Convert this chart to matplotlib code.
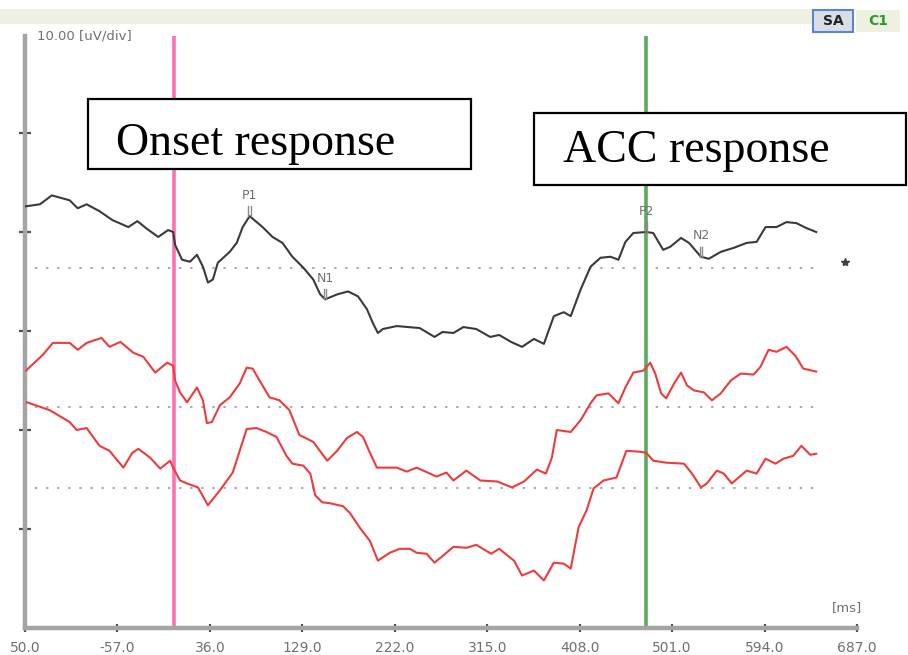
import numpy as np
import matplotlib
matplotlib.use("Agg")
import matplotlib.pyplot as plt
from matplotlib.patches import Rectangle

# ---- averaged evoked responses: time (ms) and amplitude (uV re. channel baseline)
t_black = [-149, -135, -123, -105, -97, -88, -75, -62, -46, -37, -27, -16, -6, -1, 1, 8, 16, 23,
           29, 34, 39, 44, 56, 63, 69, 76, 89, 99, 109, 119, 130, 140, 147, 152, 164, 175, 185,
           194, 200, 205, 210, 224, 247, 262, 270, 281, 291, 304, 318, 327, 339, 350, 362, 372,
           382, 392, 399, 409, 419, 429, 439, 447, 454, 462, 475, 482, 492, 499, 510, 518, 530,
           538, 550, 563, 576, 586, 595, 606, 616, 626, 636, 646]
a_black = [6.2, 6.4, 7.3, 6.8, 6.0, 6.4, 5.7, 4.8, 4.1, 4.7, 3.9, 3.1, 3.8, 3.6, 2.3, 0.8, 0.6, 1.3,
           0.1, -1.5, -1.2, 0.5, 1.6, 2.5, 4.1, 5.2, 4.1, 3.1, 2.5, 1.1, 0.0, -1.2, -2.7, -3.2, -2.7,
           -2.4, -2.9, -4.2, -5.6, -6.6, -6.2, -5.9, -6.1, -7.0, -6.5, -6.6, -6.0, -6.2, -7.0, -6.8,
           -7.5, -8.0, -7.2, -7.7, -4.9, -4.5, -4.9, -2.2, 0.1, 1.0, 1.1, 0.8, 2.6, 3.5, 3.6, 3.5,
           1.8, 2.1, 3.0, 2.5, 1.1, 0.9, 1.6, 2.0, 2.5, 2.6, 4.1, 4.1, 4.6, 4.5, 4.0, 3.6]

t_red1 = [-149, -132, -122, -105, -97, -88, -73, -65, -54, -41, -31, -19, -7, -1, 1, 6, 13, 23, 29,
          33, 38, 46, 56, 66, 73, 79, 86, 96, 106, 116, 126, 140, 154, 164, 174, 184, 190, 197, 204,
          224, 234, 244, 264, 274, 281, 294, 308, 325, 340, 352, 365, 374, 380, 385, 399, 409, 419,
          425, 437, 447, 454, 462, 472, 479, 484, 490, 495, 503, 510, 516, 523, 533, 541, 550, 560,
          570, 583, 590, 598, 606, 616, 625, 633, 646]
a_red1 = [3.7, 5.3, 6.5, 6.5, 5.8, 6.5, 7.0, 6.1, 6.6, 5.5, 5.1, 3.5, 4.5, 4.2, 2.7, 1.5, 0.5, 2.0, 0.7,
          -1.6, -1.5, 0.2, 1.0, 2.4, 4.0, 3.9, 2.7, 1.0, 0.7, -0.3, -2.8, -3.5, -5.4, -4.4, -3.1, -2.5,
          -3.0, -4.6, -6.1, -6.1, -6.5, -6.1, -7.0, -6.6, -7.4, -6.4, -7.4, -7.5, -8.1, -7.5, -6.3,
          -6.7, -5.1, -2.3, -2.5, -1.3, 0.4, 1.2, 1.4, 0.4, 2.0, 3.5, 3.7, 4.5, 3.4, 1.4, 0.9, 2.4,
          3.5, 2.2, 1.7, 1.5, 0.7, 1.4, 2.7, 3.4, 3.3, 4.1, 5.8, 5.6, 6.1, 5.2, 3.9, 3.6]

t_red2 = [-148, -125, -105, -98, -88, -75, -65, -51, -42, -36, -24, -14, -4, -1, 6, 13, 24, 34, 46,
          59, 66, 73, 83, 93, 103, 113, 119, 130, 137, 142, 149, 157, 170, 177, 187, 197, 205, 217,
          227, 237, 244, 254, 262, 274, 281, 294, 304, 319, 327, 342, 350, 362, 372, 382, 392, 399,
          407, 415, 422, 432, 445, 455, 469, 475, 482, 495, 513, 521, 530, 536, 546, 553, 561, 576,
          586, 595, 605, 613, 623, 631, 640, 646]
a_red2 = [8.7, 7.9, 6.7, 5.9, 6.1, 4.3, 3.8, 2.1, 3.6, 4.0, 3.1, 2.0, 2.8, 2.1, 0.8, 0.5, 0.1, -1.7,
          -0.2, 1.6, 3.8, 6.0, 6.1, 5.7, 5.2, 3.3, 2.5, 2.3, 1.5, -0.7, -1.4, -1.5, -1.8, -2.5, -4.0,
          -5.3, -7.3, -6.5, -6.1, -6.1, -6.5, -6.6, -7.5, -6.5, -5.9, -6.0, -5.7, -6.6, -6.1, -7.3,
          -8.8, -8.3, -9.3, -7.5, -7.6, -8.1, -3.9, -2.2, 0.0, 0.8, 1.1, 3.8, 3.7, 3.6, 2.8, 2.6, 2.5,
          1.5, 0.1, 0.5, 1.8, 1.5, 0.5, 1.8, 1.5, 3.0, 2.5, 3.0, 3.3, 4.3, 3.4, 3.5]

# display offsets of each channel (uV on the 10 uV/div scale)
base_black = 36.4
base_red1 = 22.3
base_red2 = 14.1

# component picks on the top channel
peak_names = ["P1", "N1", "P2", "N2"]
peak_times = [76, 152, 475, 530]

onset_ms = 0
acc_ms = 475
star_ms = 675

xtick_pos = [-150, -57, 36, 129, 222, 315, 408, 501, 594, 687]
xtick_labels = ["50.0", "-57.0", "36.0", "129.0", "222.0", "315.0", "408.0", "501.0", "594.0", "687.0"]
ytick_pos = [10, 20, 30, 40, 50]

W, H = 908, 655


def fx(px):
    return px / W


def fy(py):
    return 1 - py / H


fig = plt.figure(figsize=(W / 100, H / 100), dpi=100)
fig.patch.set_facecolor("white")

ax = fig.add_axes([fx(25), fy(628), fx(857) - fx(25), fy(36) - fy(628)])
ax.set_xlim(-150, 687)
ax.set_ylim(0, 59.8)

for s in ("top", "right"):
    ax.spines[s].set_visible(False)
for s in ("left", "bottom"):
    ax.spines[s].set_color("#a4a4a4")
    ax.spines[s].set_linewidth(3.2)

ax.set_xticks(xtick_pos)
ax.set_xticklabels(xtick_labels)
ax.set_yticks(ytick_pos)
ax.set_yticklabels([])
ax.tick_params(axis="x", direction="inout", length=6, width=1.6, color="#505050",
               labelsize=10, labelcolor="#707070", pad=6)
ax.tick_params(axis="y", direction="inout", length=9, width=1.6, color="#505050")

# channel baselines
t_first, t_last = -140, 647
for b in (base_black, base_red1, base_red2):
    ax.plot([t_first, t_last], [b, b], color="#a8a8a8", lw=1.4, linestyle=(0, (1.2, 4.5)), zorder=1)

# stimulus markers
ax.axvline(onset_ms, ymax=1.0, color="#ff6fb5", lw=2.6, zorder=2)
ax.axvline(acc_ms, ymax=1.0, color="#5fa85f", lw=2.6, zorder=2)

# waveforms
ax.plot(t_black, np.array(a_black) + base_black, color="#3a3a3a", lw=1.5, zorder=4)
ax.plot(t_red1, np.array(a_red1) + base_red1, color="#ee3b3b", lw=1.5, zorder=3)
ax.plot(t_red2, np.array(a_red2) + base_red2, color="#ee3b3b", lw=1.5, zorder=3)

# component labels
for name, pt in zip(peak_names, peak_times):
    yv = np.interp(pt, t_black, a_black) + base_black
    ax.plot([pt - 1.2, pt - 1.2], [yv, yv + 1.0], color="#8a8a8a", lw=1.0, zorder=5)
    ax.plot([pt + 1.2, pt + 1.2], [yv, yv + 1.0], color="#8a8a8a", lw=1.0, zorder=5)
    ax.text(pt, yv + 2.1, name, ha="center", va="center", fontsize=9, color="#707070", zorder=5)

ax.plot([star_ms], [37.0], marker="*", color="#404040", markersize=6, clip_on=False)

ax.text(-138, 59.8, "10.00 [uV/div]", ha="left", va="center", fontsize=9.5, color="#707070")
ax.text(677, 1.4, "[ms]", ha="center", va="bottom", fontsize=9.5, color="#707070")

# header strip with channel tags
fig.patches.append(Rectangle((0, fy(24)), fx(812), fy(9) - fy(24), transform=fig.transFigure,
                             facecolor="#efefe2", edgecolor="none"))
fig.patches.append(Rectangle((fx(813), fy(32)), fx(40), fy(10) - fy(32), transform=fig.transFigure,
                             facecolor="#d8dde6", edgecolor="#5b86c9", lw=1.5))
fig.text(fx(833), fy(21), "SA", ha="center", va="center", fontsize=10, fontweight="bold", color="#222222")
fig.patches.append(Rectangle((fx(856), fy(32)), fx(44), fy(10) - fy(32), transform=fig.transFigure,
                             facecolor="#eef0e2", edgecolor="none"))
fig.text(fx(878), fy(21), "C1", ha="center", va="center", fontsize=10, fontweight="bold", color="#2e9a2e")

# annotation boxes
fig.patches.append(Rectangle((fx(88), fy(169)), fx(471) - fx(88), fy(99) - fy(169),
                             transform=fig.transFigure, facecolor="white", edgecolor="black", lw=1.6, zorder=10))
fig.text(fx(116), fy(155), "Onset response", ha="left", va="baseline", fontsize=33,
         family=["Liberation Serif"], color="black", zorder=11)
fig.patches.append(Rectangle((fx(534), fy(185)), fx(906) - fx(534), fy(113) - fy(185),
                             transform=fig.transFigure, facecolor="white", edgecolor="black", lw=1.6, zorder=10))
fig.text(fx(563), fy(162), "ACC response", ha="left", va="baseline", fontsize=33,
         family=["Liberation Serif"], color="black", zorder=11)

fig.savefig("out.png", dpi=100)
